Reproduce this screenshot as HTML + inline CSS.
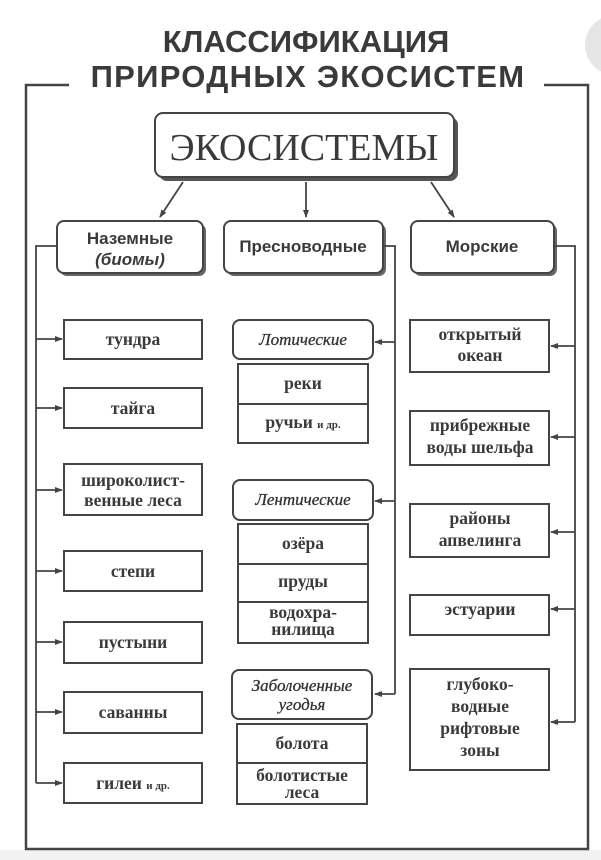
<!DOCTYPE html>
<html><head><meta charset="utf-8"><style>
html,body{margin:0;padding:0;background:#fff;}
svg{display:block;}
.s{font-family:"Liberation Sans",sans-serif;font-weight:bold;fill:#3a3a3a;}
.r{font-family:"Liberation Serif",serif;font-weight:bold;fill:#3a3a3a;font-size:17.5px;text-anchor:middle;}
.i{font-family:"Liberation Serif",serif;font-style:italic;fill:#333;font-size:17px;text-anchor:middle;stroke:#333;stroke-width:0.3;}
</style></head><body>
<svg width="601" height="860" viewBox="0 0 601 860" xmlns="http://www.w3.org/2000/svg">
<defs>
<marker id="a" markerWidth="8" markerHeight="8" refX="7" refY="4" orient="auto" markerUnits="userSpaceOnUse"><path d="M0,1 L8,4 L0,7 Z" fill="#444"/></marker>
</defs>
<rect x="0" y="850" width="601" height="10" fill="#f2f2f2"/>
<circle cx="615" cy="45" r="30" fill="#e6e6e6"/>
<g stroke="#444" fill="none" stroke-width="2.5">
<polyline points="69,85 26,85 26,849 588,849 588,85 544,85"/>
</g>
<text class="s" x="306" y="52" font-size="31" text-anchor="middle">КЛАССИФИКАЦИЯ</text>
<text class="s" x="308" y="87" font-size="31" text-anchor="middle" letter-spacing="1.3">ПРИРОДНЫХ ЭКОСИСТЕМ</text>
<rect x="159" y="117" width="299" height="64" rx="8" fill="#555"/>
<rect x="155" y="113" width="299" height="64" rx="8" fill="#fff" stroke="#444" stroke-width="2"/>
<text x="304" y="160" font-family="Liberation Serif,serif" font-size="38" fill="#3a3a3a" text-anchor="middle">ЭКОСИСТЕМЫ</text>
<g stroke="#444" stroke-width="1.8" fill="none">
<line x1="183" y1="182" x2="160" y2="217" marker-end="url(#a)"/>
<line x1="306" y1="182" x2="306" y2="217" marker-end="url(#a)"/>
<line x1="431" y1="182" x2="454" y2="217" marker-end="url(#a)"/>
</g>
<g stroke="#444" stroke-width="2" fill="#fff">
<rect x="60" y="224" width="146" height="52" rx="7" fill="#666" stroke="none"/>
<rect x="57" y="221" width="146" height="52" rx="7"/>
<rect x="227" y="224" width="159" height="52" rx="7" fill="#666" stroke="none"/>
<rect x="224" y="221" width="159" height="52" rx="7"/>
<rect x="414" y="224" width="143" height="52" rx="7" fill="#666" stroke="none"/>
<rect x="411" y="221" width="143" height="52" rx="7"/>
</g>
<text class="s" x="130" y="244" font-size="17" text-anchor="middle">Наземные</text>
<text class="s" x="130" y="265" font-size="17" font-style="italic" text-anchor="middle">(биомы)</text>
<text class="s" x="303" y="252" font-size="17" text-anchor="middle">Пресноводные</text>
<text class="s" x="482" y="252" font-size="17" text-anchor="middle">Морские</text>
<g stroke="#444" stroke-width="1.8" fill="none">
<polyline points="57,246 36,246 36,783"/>
<line x1="36" y1="339" x2="62" y2="339" marker-end="url(#a)"/>
<line x1="36" y1="408" x2="62" y2="408" marker-end="url(#a)"/>
<line x1="36" y1="490" x2="62" y2="490" marker-end="url(#a)"/>
<line x1="36" y1="571" x2="62" y2="571" marker-end="url(#a)"/>
<line x1="36" y1="642" x2="62" y2="642" marker-end="url(#a)"/>
<line x1="36" y1="712" x2="62" y2="712" marker-end="url(#a)"/>
<line x1="36" y1="783" x2="62" y2="783" marker-end="url(#a)"/>
<polyline points="383,246 395,246 395,694"/>
<line x1="395" y1="342" x2="375" y2="342" marker-end="url(#a)"/>
<line x1="395" y1="501" x2="375" y2="501" marker-end="url(#a)"/>
<line x1="395" y1="694" x2="375" y2="694" marker-end="url(#a)"/>
<polyline points="554,246 575,246 575,722"/>
<line x1="575" y1="346" x2="551" y2="346" marker-end="url(#a)"/>
<line x1="575" y1="437" x2="551" y2="437" marker-end="url(#a)"/>
<line x1="575" y1="532" x2="551" y2="532" marker-end="url(#a)"/>
<line x1="575" y1="609" x2="551" y2="609" marker-end="url(#a)"/>
<line x1="575" y1="722" x2="551" y2="722" marker-end="url(#a)"/>
</g>
<g stroke="#444" stroke-width="2" fill="#fff">
<rect x="64" y="320" width="138" height="39"/>
<rect x="64" y="388" width="138" height="40"/>
<rect x="64" y="464" width="138" height="51"/>
<rect x="64" y="551" width="138" height="40"/>
<rect x="64" y="622" width="138" height="41"/>
<rect x="64" y="692" width="138" height="41"/>
<rect x="64" y="763" width="138" height="40"/>
<rect x="233" y="320" width="140" height="39" rx="7"/>
<rect x="238" y="364" width="130" height="79"/>
<line x1="238" y1="404" x2="368" y2="404"/>
<rect x="233" y="480" width="140" height="40" rx="7"/>
<rect x="238" y="524" width="130" height="119"/>
<line x1="238" y1="564" x2="368" y2="564"/>
<line x1="238" y1="602" x2="368" y2="602"/>
<rect x="232" y="670" width="140" height="49" rx="7"/>
<rect x="237" y="724" width="130" height="80"/>
<line x1="237" y1="763" x2="367" y2="763"/>
<rect x="410" y="320" width="139" height="52"/>
<rect x="410" y="411" width="139" height="54"/>
<rect x="410" y="504" width="139" height="53"/>
<rect x="410" y="595" width="139" height="40"/>
<rect x="410" y="669" width="139" height="101"/>
</g>
<text class="r" x="133" y="345">тундра</text>
<text class="r" x="133" y="414">тайга</text>
<text class="r" x="133" y="486">широколист-</text>
<text class="r" x="133" y="506">венные  леса</text>
<text class="r" x="133" y="577">степи</text>
<text class="r" x="133" y="648">пустыни</text>
<text class="r" x="133" y="718">саванны</text>
<text class="r" x="133" y="789">гилеи <tspan font-size="11">и др.</tspan></text>
<text class="i" x="303" y="345">Лотические</text>
<text class="r" x="303" y="389">реки</text>
<text class="r" x="303" y="428">ручьи <tspan font-size="11">и др.</tspan></text>
<text class="i" x="303" y="505">Лентические</text>
<text class="r" x="303" y="549">озёра</text>
<text class="r" x="303" y="587">пруды</text>
<text class="r" x="303" y="618">водохра-</text>
<text class="r" x="303" y="635">нилища</text>
<text class="i" x="302" y="691">Заболоченные</text>
<text class="i" x="302" y="710">угодья</text>
<text class="r" x="302" y="749">болота</text>
<text class="r" x="302" y="781">болотистые</text>
<text class="r" x="302" y="798">леса</text>
<text class="r" x="480" y="340">открытый</text>
<text class="r" x="480" y="361">океан</text>
<text class="r" x="480" y="431">прибрежные</text>
<text class="r" x="480" y="453">воды шельфа</text>
<text class="r" x="480" y="524">районы</text>
<text class="r" x="480" y="546">апвелинга</text>
<text class="r" x="480" y="615">эстуарии</text>
<text class="r" x="480" y="690">глубоко-</text>
<text class="r" x="480" y="712">водные</text>
<text class="r" x="480" y="734">рифтовые</text>
<text class="r" x="480" y="756">зоны</text>
</svg>
</body></html>
